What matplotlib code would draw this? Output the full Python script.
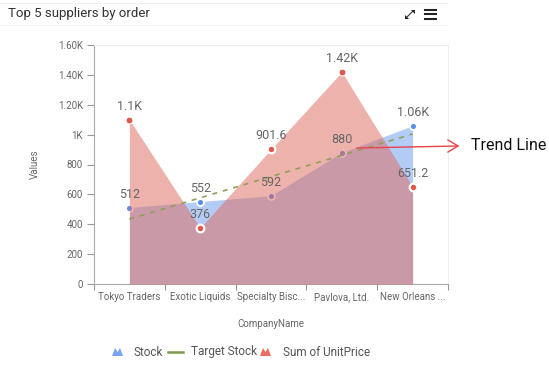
import matplotlib
matplotlib.use("Agg")
import matplotlib.pyplot as plt
from matplotlib.patches import Polygon
from matplotlib.lines import Line2D
import numpy as np

plt.rcParams['font.family'] = ['Roboto', 'DejaVu Sans']

categories = ["Tokyo Traders", "Exotic Liquids", "Specialty Bisc...", "Pavlova, Ltd.", "New Orleans ..."]
stock = [512, 552, 592, 880, 1060]
stock_labels = ["512", "552", "592", "880", "1.06K"]
unit_price = [1100, 376, 901.6, 1420, 651.2]
price_labels = ["1.1K", "376", "901.6", "1.42K", "651.2"]
target_stock = [434.4, 576.8, 719.2, 861.6, 1004.0]
yticks = [0, 200, 400, 600, 800, 1000, 1200, 1400, 1600]
ytick_labels = ["0", "200", "400", "600", "800", "1K", "1.20K", "1.40K", "1.60K"]

W, H = 549, 372
fig = plt.figure(figsize=(W / 100, H / 100), dpi=100)

def fx(px):
    return px / W

def fy(py):
    return 1 - py / H

ax = fig.add_axes([fx(94), fy(284), fx(448) - fx(94), fy(45) - fy(284)])
x = np.arange(len(categories))

blue_fill = "#b3ccf6"
blue_mark = "#5b8def"
red_fill = "#df675b"
red_mark = "#e0584a"
green = "#8ea058"

ax.fill_between(x, 0, stock, color=blue_fill, lw=0, zorder=1)
ax.plot(x, stock, 'o', color=blue_mark, ms=5, mec='white', mew=1.3, zorder=2)
ax.fill_between(x, 0, unit_price, color=red_fill, alpha=0.5, lw=0, zorder=3)
ring = [False, True, True, False, True]
for i in range(len(x)):
    if ring[i]:
        ax.plot(x[i], unit_price[i], 'o', color=red_mark, ms=5.5, mec='white', mew=1.6, zorder=5)
    else:
        ax.plot(x[i], unit_price[i], 'o', color=red_mark, ms=5, mec='white', mew=0.8, zorder=5)
ax.plot(x, target_stock, color=green, lw=1.2, ls=(0, (3, 3.5)), zorder=6)

for i in range(len(x)):
    ax.annotate(stock_labels[i], (x[i], stock[i]), xytext=(0, 5), textcoords='offset points',
                ha='center', va='bottom', fontsize=9, color='#666666', zorder=7)
    ax.annotate(price_labels[i], (x[i], unit_price[i]), xytext=(0, 5), textcoords='offset points',
                ha='center', va='bottom', fontsize=9, color='#666666', zorder=7)

ax.set_xlim(-0.5, len(categories) - 0.5)
ax.set_ylim(0, 1600)
ax.set_yticks(yticks)
ax.set_yticklabels(ytick_labels)
ax.set_xticks(x)
ax.set_xticklabels(categories)
ax.set_xticks(np.arange(-0.5, len(categories), 1), minor=True)
ax.tick_params(axis='x', which='major', length=0, labelsize=7, colors='#666666', pad=6)
ax.tick_params(axis='x', which='minor', length=4, color='#999999', width=0.8)
ax.tick_params(axis='y', length=5, color='#999999', width=0.8, labelsize=7, labelcolor='#666666', pad=3)
for s in ['top', 'right']:
    ax.spines[s].set_color('#eeeeee')
for s in ['left', 'bottom']:
    ax.spines[s].set_color('#aaaaaa')
    ax.spines[s].set_linewidth(0.8)
ax.set_xlabel("CompanyName", fontsize=7, color='#666666', labelpad=12)
ax.set_ylabel("Values", fontsize=7, color='#666666', labelpad=13)

# header
fig.text(fx(8), fy(14), "Top 5 suppliers by order", fontsize=9.5, color='#333333', va='center', ha='left')
fig.add_artist(Line2D([fx(0), fx(447)], [fy(3), fy(3)], color='#f0f0f0', lw=0.8))
fig.add_artist(Line2D([fx(0), fx(447)], [fy(25), fy(25)], color='#f4f4f4', lw=0.8))
# hamburger icon
for yy in [9.5, 14, 18.5]:
    fig.add_artist(Line2D([fx(425), fx(436)], [fy(yy), fy(yy)], color='#222222', lw=1.5))
# expand icon
fig.add_artist(Line2D([fx(407), fx(413)], [fy(17), fy(11)], color='#333333', lw=0.8))
fig.add_artist(Polygon([[fx(411), fy(9.5)], [fx(415), fy(9.5)], [fx(415), fy(13.5)]],
                       closed=True, color='#222222', transform=fig.transFigure, lw=0))
fig.add_artist(Polygon([[fx(405), fy(15)], [fx(405), fy(19)], [fx(409), fy(19)]],
                       closed=True, color='#222222', transform=fig.transFigure, lw=0))

# trend line annotation
fig.add_artist(Line2D([fx(357), fx(458)], [fy(148), fy(146)], color='#e8424a', lw=1.0))
fig.add_artist(Line2D([fx(448), fx(458), fx(448)], [fy(140), fy(146), fy(152)], color='#e8424a', lw=1.0))
fig.text(fx(471), fy(145), "Trend Line", fontsize=11.5, color='#111111', va='center', ha='left')

# legend
ly = 352
def mountain(x0, color):
    pts = [[x0, ly + 4], [x0 + 3, ly - 4], [x0 + 5.5, ly + 0], [x0 + 8, ly - 4], [x0 + 11, ly + 4]]
    fig.add_artist(Polygon([[fx(a), fy(b)] for a, b in pts], closed=True, color=color,
                           transform=fig.transFigure, lw=0))

mountain(112, '#7aa4f2')
fig.text(fx(133), fy(ly), "Stock", fontsize=8.5, color='#555555', va='center', ha='left')
fig.add_artist(Line2D([fx(168), fx(183)], [fy(ly), fy(ly)], color='#7a9a4a', lw=1.8))
fig.text(fx(191), fy(ly), "Target Stock", fontsize=8.5, color='#555555', va='center', ha='left')
mountain(260, '#e8705f')
fig.text(fx(283), fy(ly), "Sum of UnitPrice", fontsize=8.5, color='#555555', va='center', ha='left')

fig.savefig("out.png", dpi=100)
